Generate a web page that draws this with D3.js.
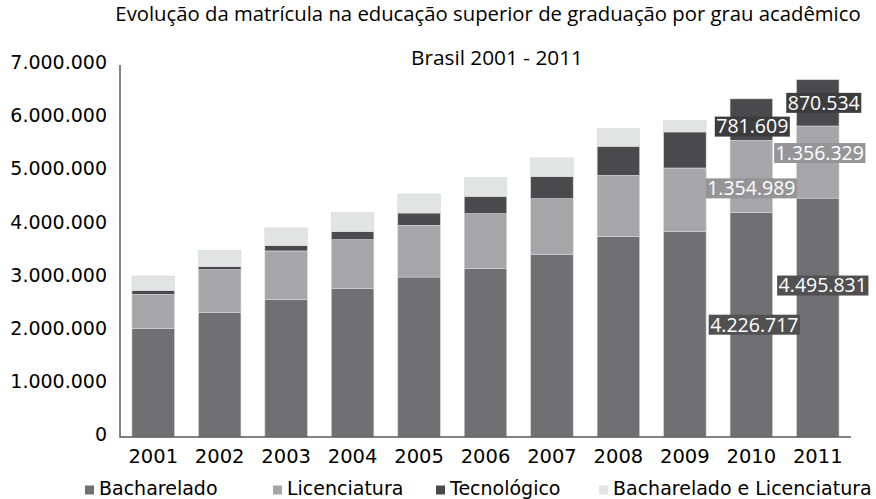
<!DOCTYPE html>
<html>
<head>
<meta charset="utf-8">
<script src="https://cdn.jsdelivr.net/npm/d3@7"></script>
<style>
  body { margin: 0; background: #fff; }
  svg { display: block; }
</style>
</head>
<body>
<svg id="chart" width="876" height="499"></svg>
<script>
// data
const years = ["2001", "2002", "2003", "2004", "2005", "2006", "2007", "2008", "2009", "2010", "2011"];
const bacharelado   = [2038000, 2347000, 2584000, 2791000, 3011000, 3167000, 3431000, 3776000, 3864000, 4226717, 4495831];
const licenciatura  = [647000, 802000, 917000, 922000, 973000, 1035000, 1054000, 1148000, 1198000, 1354989, 1356329];
const tecnologico   = [68000, 56000, 100000, 150000, 231000, 327000, 414000, 546000, 678000, 781609, 870534];
const bachLic       = [277000, 308000, 333000, 358000, 358000, 351000, 352000, 332000, 220000, 0, 0];
const seriesNames = ["Bacharelado", "Licenciatura", "Tecnológico", "Bacharelado e Licenciatura"];
const yTicks = [0, 1000000, 2000000, 3000000, 4000000, 5000000, 6000000, 7000000];

const colors = ["#707072", "#a6a6a8", "#4a4a4c", "#e2e3e3"];
const labelBg = ["#505052", "#959597", "#3c3c3e", "#cccccc"];

const svg = d3.select("#chart");

const rows = years.map((y, i) => ({
    year: y,
    "Bacharelado": bacharelado[i],
    "Licenciatura": licenciatura[i],
    "Tecnológico": tecnologico[i],
    "Bacharelado e Licenciatura": bachLic[i]
}));

const stack = d3.stack().keys(seriesNames);
const layers = stack(rows);

const x = d3.scaleBand().domain(years).range([120, 851]).paddingInner(0.36).paddingOuter(0.18);
const y = d3.scaleLinear().domain([0, 7000000]).range([437, 65]);

const fmt = v => d3.format(",")(v).replace(/,/g, ".");

// title
svg.append("text")
    .attr("x", 488).attr("y", 21)
    .attr("text-anchor", "middle")
    .style("font-family", "'Open Sans', sans-serif")
    .style("font-size", "20.3px")
    .style("fill", "#000")
    .text("Evolução da matrícula na educação superior de graduação por grau acadêmico");

svg.append("text")
    .attr("x", 497).attr("y", 65)
    .attr("text-anchor", "middle")
    .style("font-family", "'Open Sans', sans-serif")
    .style("font-size", "20.8px")
    .style("fill", "#000")
    .text("Brasil 2001 - 2011");

// bars
const g = svg.append("g");
g.selectAll("g.layer")
    .data(layers)
    .join("g")
    .attr("class", "layer")
    .style("fill", (d, i) => colors[i])
    .selectAll("rect")
    .data(d => d)
    .join("rect")
    .attr("x", d => x(d.data.year))
    .attr("y", d => y(d[1]))
    .attr("width", x.bandwidth())
    .attr("height", d => y(d[0]) - y(d[1]))
    .style("stroke", "#d8d8d8")
    .style("stroke-width", 0.6);

// y axis labels (no tick marks)
const yAxis = svg.append("g")
    .attr("transform", "translate(120,-2.5)")
    .call(d3.axisLeft(y).tickValues(yTicks).tickFormat(fmt).tickSize(0).tickPadding(13));
yAxis.select(".domain").remove();
yAxis.selectAll("text")
    .style("font-family", "'DejaVu Sans', sans-serif")
    .style("font-size", "19px")
    .style("fill", "#000");

// x axis
const xAxis = svg.append("g")
    .attr("transform", "translate(0,437)")
    .call(d3.axisBottom(x).tickSize(0).tickPadding(0));
xAxis.select(".domain").remove();
xAxis.selectAll("text")
    .attr("dy", null)
    .attr("y", 25.7)
    .style("font-family", "'DejaVu Sans', sans-serif")
    .style("font-size", "19.5px")
    .style("fill", "#000");

// axis lines
svg.append("path")
    .attr("d", "M120,65V437H851")
    .style("fill", "none")
    .style("stroke", "#595959")
    .style("stroke-width", 1.5);

// data labels on the last two bars
const labels = [
    { year: "2010", s: 0, dx: 3, dy: 0 },
    { year: "2010", s: 1, dx: 0, dy: 12 },
    { year: "2010", s: 2, dx: 1, dy: 7 },
    { year: "2011", s: 0, dx: 5, dy: -32 },
    { year: "2011", s: 1, dx: 2, dy: -9 },
    { year: "2011", s: 2, dx: 6, dy: 0 }
];
const lg = svg.append("g");
labels.forEach((l, i) => {
    const yi = years.indexOf(l.year);
    const seg = layers[l.s][yi];
    const cx = x(l.year) + x.bandwidth() / 2 + l.dx;
    const cy = (y(seg[0]) + y(seg[1])) / 2 + l.dy;
    const bg = lg.append("rect").style("fill", labelBg[l.s]);
    const t = lg.append("text")
        .attr("x", cx).attr("y", cy)
        .attr("text-anchor", "middle")
        .attr("dy", "0.35em")
        .style("font-family", "'Open Sans', sans-serif")
        .style("font-size", "19.5px")
        .style("fill", "#fff")
        .text(fmt(seg.data[seriesNames[l.s]]));
    const bb = t.node().getBBox();
    bg.attr("x", bb.x - 1.5).attr("y", cy - 10)
      .attr("width", bb.width + 3).attr("height", 20);
});

// legend
const legendX = [85, 273, 436, 599];
const leg = svg.append("g");
seriesNames.forEach((name, i) => {
    leg.append("rect")
        .attr("x", legendX[i]).attr("y", 485.5)
        .attr("width", 9).attr("height", 9)
        .style("fill", colors[i]);
    leg.append("text")
        .attr("x", legendX[i] + 14).attr("y", 495)
        .style("font-family", "'DejaVu Sans', sans-serif")
        .style("font-size", "19px")
        .style("fill", "#000")
        .text(name);
});
</script>
</body>
</html>
